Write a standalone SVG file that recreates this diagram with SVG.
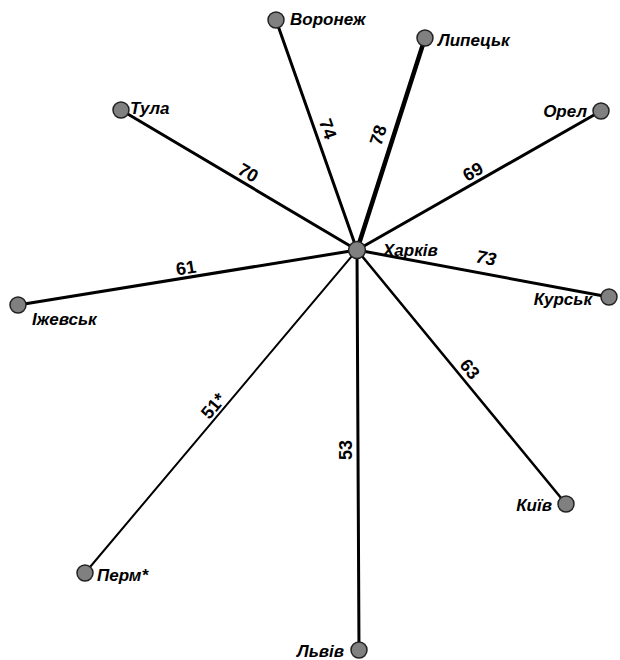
<svg xmlns="http://www.w3.org/2000/svg" width="620" height="660" viewBox="0 0 620 660">
<style>
.e{stroke:#000;stroke-linecap:round;fill:none}
.n{fill:#808080;stroke:#222;stroke-width:1.5}
.c{font-family:"Liberation Sans",Arial,sans-serif;font-weight:bold;font-style:italic;font-size:17px;fill:#000}
.w{font-family:"Liberation Sans",Arial,sans-serif;font-weight:bold;font-size:18px;fill:#000}
.r{text-anchor:end}
</style>
<rect width="620" height="660" fill="#fff"/>
<g id="connectors">
<line class="e" x1="357" y1="250" x2="276" y2="20" stroke-width="3"/>
<line class="e" x1="357" y1="250" x2="425" y2="38" stroke-width="4.5"/>
<line class="e" x1="357" y1="250" x2="121" y2="110" stroke-width="3"/>
<line class="e" x1="357" y1="250" x2="601" y2="111" stroke-width="3"/>
<line class="e" x1="357" y1="250" x2="18" y2="305" stroke-width="3"/>
<line class="e" x1="357" y1="250" x2="609" y2="297" stroke-width="3"/>
<line class="e" x1="357" y1="250" x2="85" y2="573" stroke-width="2"/>
<line class="e" x1="357" y1="250" x2="359" y2="650" stroke-width="3"/>
<line class="e" x1="357" y1="250" x2="566" y2="504" stroke-width="2.5"/>
<text class="w" transform="translate(245,178) rotate(30.7)" text-anchor="middle">70</text>
<text class="w" transform="translate(322,131) rotate(70.6)" text-anchor="middle">74</text>
<text class="w" transform="translate(384,137) rotate(-72)" text-anchor="middle">78</text>
<text class="w" transform="translate(476,177) rotate(-29.7)" text-anchor="middle">69</text>
<text class="w" transform="translate(187,274) rotate(-9.2)" text-anchor="middle">61</text>
<text class="c" transform="translate(485,264) rotate(10.6)" text-anchor="middle" style="font-size:18px">73</text>
<text class="w" transform="translate(465,373) rotate(50.5)" text-anchor="middle">63</text>
<text class="w" transform="translate(352,450) rotate(-90)" text-anchor="middle">53</text>
<text class="w" transform="translate(218,410) rotate(-50)" text-anchor="middle">51*</text>
</g>
<g id="kharkiv"><circle class="n" cx="357" cy="250" r="8.5"/><text class="c" x="383" y="256">Харків</text></g>
<g id="voronezh"><circle class="n" cx="276" cy="20" r="8"/><text class="c" x="290" y="25">Воронеж</text></g>
<g id="lypetsk"><circle class="n" cx="425" cy="38" r="8"/><text class="c" x="438" y="46">Липецьк</text></g>
<g id="tula"><circle class="n" cx="121" cy="110" r="8"/><text class="c" x="130" y="114">Тула</text></g>
<g id="orel"><circle class="n" cx="601" cy="111" r="8"/><text class="c r" x="587" y="117">Орел</text></g>
<g id="izhevsk"><circle class="n" cx="18" cy="305" r="8"/><text class="c" x="32" y="325">Іжевськ</text></g>
<g id="kursk"><circle class="n" cx="609" cy="297" r="8"/><text class="c r" x="592" y="305">Курськ</text></g>
<g id="perm"><circle class="n" cx="85" cy="573" r="8"/><text class="c" x="97" y="581">Перм*</text></g>
<g id="lviv"><circle class="n" cx="359" cy="650" r="8"/><text class="c r" x="344" y="657">Львів</text></g>
<g id="kyiv"><circle class="n" cx="566" cy="504" r="8"/><text class="c r" x="552" y="511">Київ</text></g>
</svg>
